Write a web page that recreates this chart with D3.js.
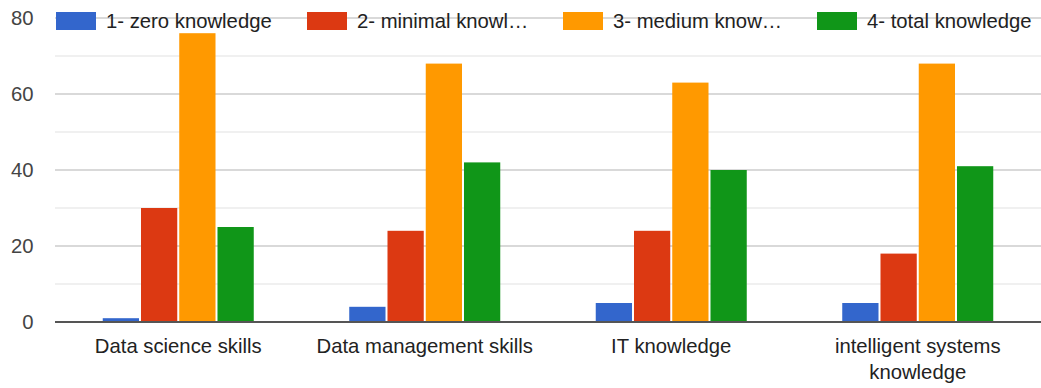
<!DOCTYPE html>
<html>
<head>
<meta charset="utf-8">
<script src="https://cdn.jsdelivr.net/npm/d3@7"></script>
<style>
  html, body { margin: 0; padding: 0; background: #fff; }
  svg { display: block; font-family: "Liberation Sans", Arial, sans-serif; }
</style>
</head>
<body>
<svg id="chart" width="1041" height="388"></svg>
<script>
// ---- data ----
const categories = ["Data science skills", "Data management skills", "IT knowledge", "intelligent systems knowledge"];
const categoryLines = [["Data science skills"], ["Data management skills"], ["IT knowledge"], ["intelligent systems", "knowledge"]];
const seriesNames = ["1- zero knowledge", "2- minimal knowledge", "3- medium knowledge", "4- total knowledge"];
const legendLabels = ["1- zero knowledge", "2- minimal knowl\u2026", "3- medium know\u2026", "4- total knowledge"];
const zeroKnowledge   = [1, 4, 5, 5];
const minimalKnowledge = [30, 24, 24, 18];
const mediumKnowledge  = [76, 68, 63, 68];
const totalKnowledge   = [25, 42, 40, 41];
const yTicks = [0, 20, 40, 60, 80];
const yMinorTicks = [10, 30, 50, 70];
const colors = ["#3366cc", "#dc3912", "#ff9900", "#109618"];

const seriesValues = [zeroKnowledge, minimalKnowledge, mediumKnowledge, totalKnowledge];

// ---- layout ----
const svg = d3.select("#chart");
const plotLeft = 55, plotRight = 1041, plotTop = 18, plotBottom = 322;
const fontSize = 20.3;

const x0 = d3.scaleBand().domain(categories).range([plotLeft, plotRight]).paddingInner(0).paddingOuter(0);
const groupW = x0.bandwidth() * 0.6126;
const x1 = d3.scaleBand().domain(seriesNames).range([-groupW / 2, groupW / 2]).paddingInner(0.052).paddingOuter(0);
const y = d3.scaleLinear().domain([0, 80]).range([plotBottom, plotTop]);

// minor gridlines
svg.append("g").selectAll("line").data(yMinorTicks).join("line")
  .attr("x1", plotLeft).attr("x2", plotRight)
  .attr("y1", d => y(d)).attr("y2", d => y(d))
  .attr("stroke", "#ebebeb").attr("stroke-width", 1.3);

// major gridlines
svg.append("g").selectAll("line").data(yTicks.filter(d => d !== 0)).join("line")
  .attr("x1", plotLeft).attr("x2", plotRight)
  .attr("y1", d => y(d)).attr("y2", d => y(d))
  .attr("stroke", "#cccccc").attr("stroke-width", 1.3);

// y axis labels via d3 axis
const yAxis = svg.append("g").attr("transform", `translate(${plotLeft - 21.5},0)`)
  .call(d3.axisLeft(y).tickValues(yTicks).tickSize(0).tickPadding(0));
yAxis.select(".domain").remove();
yAxis.selectAll("text").attr("font-size", fontSize).attr("fill", "#444")
  .attr("font-family", "Liberation Sans, Arial, sans-serif");

// bars
const rows = categories.map((c, i) => ({ cat: c, vals: seriesNames.map((s, j) => ({ s, j, v: seriesValues[j][i] })) }));
const groups = svg.append("g").selectAll("g").data(rows).join("g")
  .attr("transform", d => `translate(${x0(d.cat) + x0.bandwidth() / 2},0)`);
groups.selectAll("rect").data(d => d.vals).join("rect")
  .attr("x", d => x1(d.s))
  .attr("width", x1.bandwidth())
  .attr("y", d => y(d.v))
  .attr("height", d => y(0) - y(d.v))
  .attr("fill", d => colors[d.j]);

// baseline
svg.append("line").attr("x1", plotLeft).attr("x2", plotRight)
  .attr("y1", y(0)).attr("y2", y(0))
  .attr("stroke", "#555").attr("stroke-width", 1.8);

// x labels
const xl = svg.append("g").selectAll("text").data(categories).join("text")
  .attr("x", d => x0(d) + x0.bandwidth() / 2)
  .attr("y", 353)
  .attr("text-anchor", "middle")
  .attr("font-size", fontSize)
  .attr("fill", "#222");
xl.selectAll("tspan").data((d, i) => categoryLines[i]).join("tspan")
  .attr("x", function () { return d3.select(this.parentNode).attr("x"); })
  .attr("dy", (d, i) => i === 0 ? 0 : 25.5)
  .text(d => d);

// legend
const legendX = [56, 307, 563, 817];
const lg = svg.append("g").selectAll("g").data(legendLabels).join("g")
  .attr("transform", (d, i) => `translate(${legendX[i]},12)`);
lg.append("rect").attr("width", 40).attr("height", 18)
  .attr("fill", (d, i) => colors[i]);
lg.append("text").attr("x", 50).attr("y", 16.3)
  .attr("font-size", fontSize).attr("fill", "#222")
  .text(d => d);
</script>
</body>
</html>
